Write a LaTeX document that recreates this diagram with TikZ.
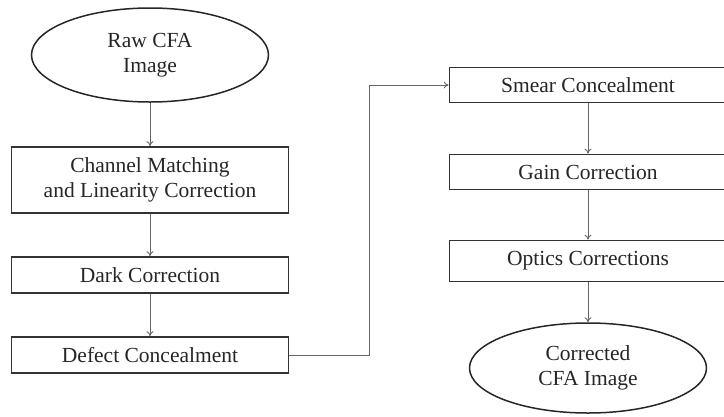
\documentclass[tikz,border=0pt]{standalone}
\usepackage{fontspec}
\setmainfont{Liberation Serif}
\usetikzlibrary{shapes.geometric,arrows.meta}

\begin{document}
\begin{tikzpicture}[x=1pt,y=-1pt,
	stage/.style={draw=black!80, line width=1.7pt, rectangle, inner sep=0pt,
		minimum width=277pt, text=black!85, font=\fontsize{21.5}{25}\selectfont, align=center},
	terminal/.style={draw=black!85, line width=1.5pt, ellipse, inner sep=0pt,
		minimum width=237pt, minimum height=94pt, text=black!85,
		font=\fontsize{21.5}{25}\selectfont, align=center},
	flow/.style={draw=black!60, line width=0.9pt, -{To[length=5pt,width=7pt]}}]
	% page frame, the right column runs past the edge
	\clip (0,0) rectangle (724,416);
	% left column
	\node[terminal] (raw) at (150,55) {Raw CFA\\Image};
	\node[stage, minimum height=66pt] (chan) at (150,180) {Channel Matching\\and Linearity Correction};
	\node[stage, minimum height=36pt] (dark) at (150,275) {Dark Correction};
	\node[stage, minimum height=36pt] (defect) at (150,355) {Defect Concealment};
	% right column
	\node[stage, minimum height=35pt] (smear) at (588,85) {Smear Concealment};
	\node[stage, minimum height=35pt] (gain) at (588,172) {Gain Correction};
	\node[stage, minimum height=41pt] (optics) at (588,261) {Optics Corrections};
	\node[terminal, minimum height=90pt] (corr) at (588,368) {Corrected\\CFA Image};
	% arrows down the left column
	\draw[flow] (raw) -- (chan);
	\draw[flow] (chan) -- (dark);
	\draw[flow] (dark) -- (defect);
	% jump over to the right column
	\draw[flow] (defect.east) -- ++(80,0) |- (smear.west);
	% arrows down the right column
	\draw[flow] (smear) -- (gain);
	\draw[flow] (gain) -- (optics);
	\draw[flow] (optics) -- (corr);
\end{tikzpicture}
\end{document}
